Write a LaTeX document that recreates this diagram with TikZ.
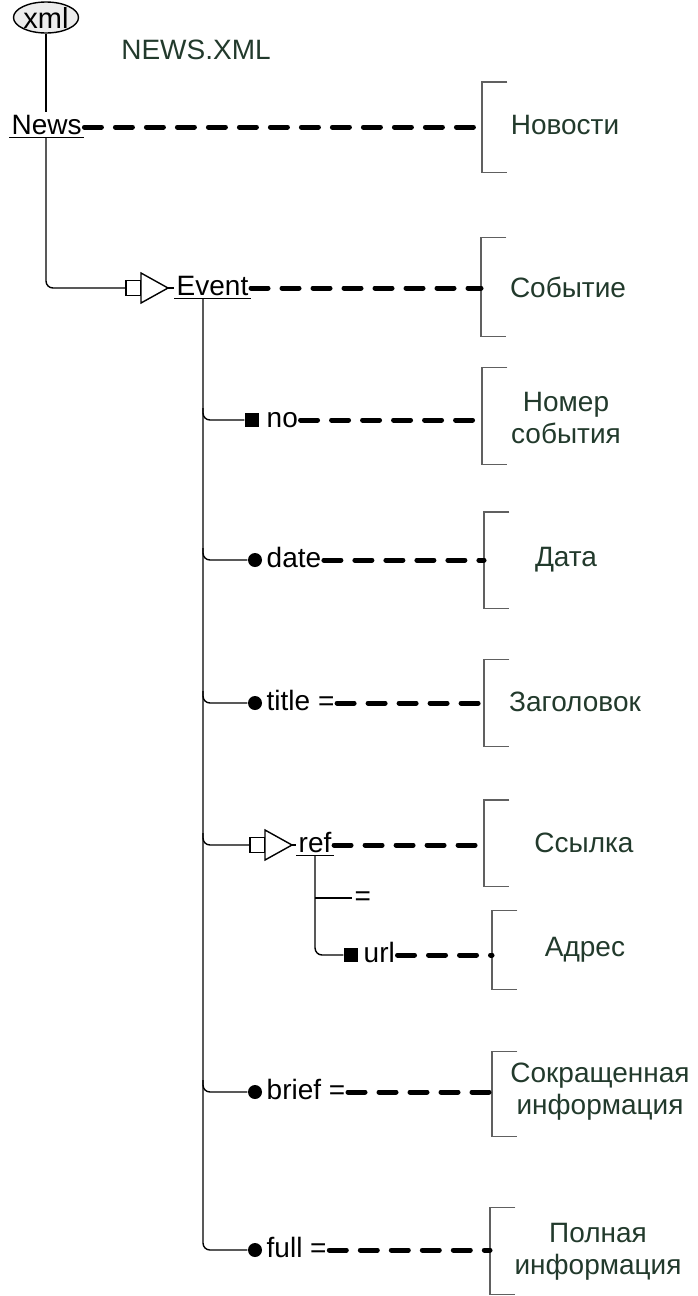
\documentclass[tikz,border=0pt]{standalone}
\usepackage{fontspec}
\setmainfont{Liberation Sans}
\usetikzlibrary{positioning,shapes.geometric,calc}
\definecolor{notegreen}{RGB}{34,58,44}
\definecolor{bracketgray}{RGB}{96,96,96}
\tikzset{
  elem/.style={anchor=mid west, inner sep=2pt, font=\fontsize{28}{32}\selectfont},
  note/.style={align=center, inner sep=1pt, text=notegreen, font=\fontsize{28}{32}\selectfont},
  brk/.style={minimum width=24pt, inner sep=0pt, anchor=west},
  sqmark/.style={fill, minimum size=14pt, inner sep=0pt},
  dotmark/.style={circle, fill, minimum size=14pt, inner sep=0pt},
  link/.style={line width=5pt, dash pattern=on 17pt off 14pt, line cap=round},
  pics/seqlink/.style={code={
    \draw[fill=white] (0,-7.5) rectangle (15,7.5);
    \draw[fill=white] (15,-15) -- (42,0) -- (15,15) -- cycle;
    \coordinate (-in) at (0,0);
    \coordinate (-out) at (42,0);
  }}
}
\begin{document}
\fontsize{28}{32}\selectfont
\begin{tikzpicture}[x=1pt, y=-1pt, line width=1.4pt]
  \useasboundingbox (0,0) rectangle (697,1296);
  \node[ellipse, draw, fill=gray!15, minimum width=65pt, minimum height=31pt, inner sep=0pt,
        font=\fontsize{29}{30}\selectfont] (xml) at (46,17.5) {xml};
  \node[note] (file) at (196,50) {NEWS.XML};

  \node[elem] (news) at (9,127) {News};
  \draw (news.south west) -- (news.south east);
  \draw (xml) -- (xml |- news.north);

  \pic (ev) at (126,288) {seqlink};
  \node[elem] (event) at (174,288) {Event};
  \draw (event.south west) -- (event.south east);
  \draw[rounded corners=7pt] (xml |- news.south) |- (ev-in);
  \draw (ev-out) -- (event.mid west);

  \coordinate (trunk) at ([xshift=29pt]event.south west);
  \node[sqmark] (mno) at (252,420) {};
  \node[elem] (no) at (264,420) {no};
  \foreach \n/\y/\t in {date/560/date, title/703/{title =}, brief/1092/{brief =}, full/1250/{full =}} {
    \node[dotmark] (m\n) at (255,\y) {};
    \node[elem] (\n) at (264,\y) {\t};
  }
  \pic (rf) at (250,845) {seqlink};
  \node[elem] (ref) at (296,845) {ref};
  \draw (ref.south west) -- (ref.south east);
  \draw (rf-out) -- (ref.mid west);

  \draw[rounded corners=7pt] (trunk) |- (mfull.west);
  \foreach \m in {mno,mdate,mtitle,rf-in,mbrief}
    \draw[rounded corners=7pt] ($(trunk |- \m)+(0,-12)$) |- (\m);

  \node[elem] (eq) at (352,898) {=};
  \node[sqmark] (murl) at (351,955) {};
  \node[elem] (url) at (361,955) {url};
  \draw[rounded corners=7pt] (ref.south) |- (murl.west);
  \draw (ref.south |- eq.mid west) -- (eq.mid west);

  \foreach \b/\x/\y/\h in {bnews/482/127/89, bevent/481/287/98, bno/482/416/96, bdate/484/560/95,
      btitle/484/703/86, bref/484/843/85, burl/492/950/78, bbrief/492/1094/84, bfull/490/1251/86} {
    \node[brk, minimum height=\h pt] (\b) at (\x,\y) {};
    \draw[bracketgray] (\b.north east) -- (\b.north west) -- (\b.south west) -- (\b.south east);
  }
  \node[note] (lnews) at (565,125) {Новости};
  \node[note] (levent) at (568,287) {Событие};
  \node[note] (lno) at (566,418) {Номер\\события};
  \node[note] (ldate) at (566,560) {Дата};
  \node[note] (ltitle) at (575,702) {Заголовок};
  \node[note] (lref) at (584,843) {Ссылка};
  \node[note] (lurl) at (585,950) {Адрес};
  \node[note] (lbrief) at (600,1092) {Сокращенная\\информация};
  \node[note] (lfull) at (598,1252) {Полная\\информация};

  \foreach \a/\b in {news/bnews, event/bevent, no/bno, date/bdate, title/btitle,
      ref/bref, url/burl, brief/bbrief, full/bfull}
    \draw[link] (\a.mid east) -- (\a.mid east -| \b.west);
\end{tikzpicture}
\end{document}
